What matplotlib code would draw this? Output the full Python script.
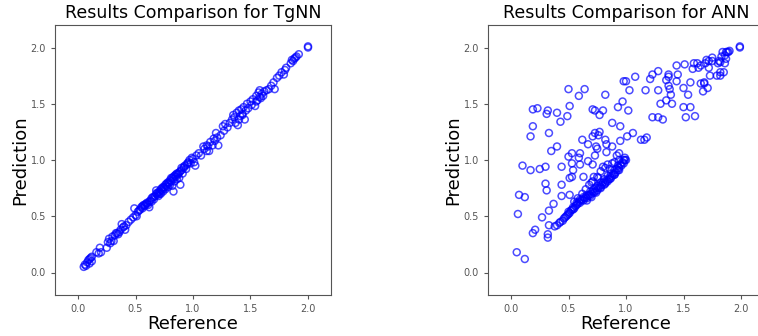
import numpy as np
import matplotlib.pyplot as plt

# TgNN results (reference, prediction)
tg_ref = [0.05, 0.06, 0.07, 0.08, 0.09, 0.10, 0.10, 0.11, 0.12, 0.12, 0.16, 0.18, 0.19, 0.20,
          0.25, 0.26, 0.27, 0.28, 0.29, 0.30, 0.31, 0.32, 0.34, 0.35, 0.36, 0.38, 0.39, 0.40,
          0.41, 0.42, 0.44, 0.46, 0.48, 0.49, 0.50, 0.51, 0.53, 0.54, 0.55, 0.56, 0.57, 0.58,
          0.59, 0.60, 0.61, 0.62, 0.63, 0.64, 0.65, 0.66, 0.67, 0.68, 0.68, 0.69, 0.70, 0.70,
          0.71, 0.72, 0.72, 0.73, 0.74, 0.74, 0.75, 0.76, 0.76, 0.77, 0.78, 0.78, 0.79, 0.80,
          0.80, 0.81, 0.82, 0.82, 0.83, 0.83, 0.84, 0.84, 0.85, 0.86, 0.86, 0.87, 0.88, 0.88,
          0.89, 0.89, 0.90, 0.91, 0.92, 0.93, 0.94, 0.95, 0.96, 0.97, 0.98, 0.99, 1.00, 1.01,
          1.02, 1.03, 1.05, 1.07, 1.09, 1.10, 1.12, 1.12, 1.14, 1.15, 1.17, 1.18, 1.20, 1.21,
          1.22, 1.24, 1.26, 1.27, 1.28, 1.30, 1.32, 1.34, 1.35, 1.36, 1.37, 1.38, 1.39, 1.40,
          1.41, 1.42, 1.43, 1.44, 1.45, 1.46, 1.47, 1.48, 1.50, 1.51, 1.52, 1.54, 1.55, 1.56,
          1.57, 1.58, 1.59, 1.60, 1.61, 1.62, 1.64, 1.66, 1.68, 1.70, 1.71, 1.73, 1.75, 1.77,
          1.79, 1.80, 1.81, 1.85, 1.86, 1.87, 1.88, 1.89, 1.90, 1.92, 2.00, 2.00,
          0.58, 0.60, 0.62, 0.64, 0.66, 0.69, 0.71, 0.73, 0.75, 0.77, 0.79, 0.81, 0.83, 0.85,
          0.87, 0.90, 0.92, 0.95, 0.33, 0.37, 0.52, 0.56, 1.40, 1.43, 1.55, 1.58, 1.13, 1.19]
tg_pred = [0.05, 0.07, 0.06, 0.09, 0.11, 0.08, 0.12, 0.13, 0.10, 0.14, 0.18, 0.17, 0.22, 0.18,
           0.22, 0.27, 0.30, 0.26, 0.28, 0.32, 0.28, 0.33, 0.35, 0.34, 0.36, 0.43, 0.40, 0.41,
           0.38, 0.42, 0.45, 0.47, 0.49, 0.57, 0.51, 0.50, 0.55, 0.56, 0.58, 0.57, 0.60, 0.59,
           0.61, 0.62, 0.60, 0.58, 0.64, 0.63, 0.67, 0.65, 0.68, 0.70, 0.73, 0.69, 0.71, 0.68,
           0.72, 0.74, 0.70, 0.73, 0.76, 0.72, 0.75, 0.78, 0.74, 0.77, 0.80, 0.76, 0.79, 0.82,
           0.78, 0.81, 0.84, 0.77, 0.72, 0.83, 0.86, 0.81, 0.85, 0.88, 0.83, 0.87, 0.89, 0.84,
           0.78, 0.90, 0.91, 0.88, 0.93, 0.95, 0.92, 0.96, 0.98, 1.00, 0.97, 1.02, 1.01, 0.98,
           0.95, 1.04, 1.06, 1.04, 1.12, 1.10, 1.13, 1.08, 1.08, 1.16, 1.13, 1.19, 1.24, 1.20,
           1.13, 1.22, 1.30, 1.26, 1.32, 1.29, 1.33, 1.36, 1.40, 1.38, 1.33, 1.42, 1.31, 1.44,
           1.39, 1.45, 1.41, 1.47, 1.36, 1.44, 1.50, 1.46, 1.52, 1.49, 1.54, 1.48, 1.57, 1.53,
           1.60, 1.62, 1.55, 1.59, 1.57, 1.61, 1.62, 1.63, 1.66, 1.69, 1.63, 1.73, 1.75, 1.78,
           1.76, 1.80, 1.82, 1.86, 1.89, 1.88, 1.90, 1.91, 1.92, 1.94, 2.00, 2.01,
           0.60, 0.61, 0.63, 0.66, 0.67, 0.71, 0.70, 0.75, 0.76, 0.79, 0.80, 0.84, 0.85, 0.87,
           0.88, 0.93, 0.94, 0.97, 0.35, 0.38, 0.54, 0.59, 1.36, 1.40, 1.52, 1.56, 1.12, 1.17]

# ANN results: scattered points
ann_ref = [0.05, 0.12, 0.06, 0.07, 0.12, 0.10, 0.17, 0.25, 0.30, 0.17, 0.19, 0.19, 0.23, 0.32,
           0.31, 0.40, 0.49, 0.43, 0.33, 0.50, 0.51, 0.59, 0.64, 0.40, 0.35, 0.30, 0.31, 0.27,
           0.33, 0.37, 0.33, 0.32, 0.32, 0.21, 0.19, 0.44, 0.44, 0.44, 0.51, 0.50, 0.53, 0.53,
           0.54, 0.53, 0.51, 0.59, 0.60, 0.60, 0.62, 0.67, 0.63, 0.67, 0.71, 0.71, 0.73, 0.77,
           0.76, 0.74, 0.75, 0.73, 0.71, 0.73, 0.77, 0.80, 0.82, 0.82, 0.83, 0.83, 0.88, 0.88,
           0.95, 0.94, 0.95, 0.93, 0.97, 0.98, 1.00, 1.02, 1.03, 1.01, 1.06, 1.08, 1.13, 1.16,
           1.18, 1.17, 1.21, 1.23, 1.28, 1.23, 1.28, 1.32, 1.28, 1.30, 1.35, 1.35, 1.37, 1.37,
           1.37, 1.38, 1.39, 1.40, 1.44, 1.45, 1.44, 1.50, 1.50, 1.52, 1.54, 1.51, 1.56, 1.56,
           1.58, 1.59, 1.60, 1.62, 1.63, 1.65, 1.65, 1.67, 1.68, 1.68, 1.69, 1.70, 1.71, 1.72,
           1.72, 1.73, 1.75, 1.75, 1.79, 1.80, 1.81, 1.82, 1.82, 1.83, 1.84, 1.86, 1.86, 1.87,
           1.88, 1.90, 1.89, 1.87, 1.82, 1.85, 1.99, 1.99,
           0.71, 0.75, 0.80, 0.84, 0.92, 0.98, 0.99, 0.72, 0.78, 0.82, 0.86, 0.88, 0.76, 0.70,
           0.68, 0.65, 0.62, 0.58, 0.55, 0.90, 0.94]
ann_pred = [0.18, 0.12, 0.52, 0.69, 0.67, 0.95, 0.91, 0.92, 0.94, 1.21, 1.30, 1.45, 1.46, 1.44,
            1.41, 1.42, 1.39, 1.34, 1.24, 1.63, 1.48, 1.57, 1.63, 1.12, 1.08, 0.79, 0.73, 0.49,
            0.55, 0.61, 0.42, 0.34, 0.31, 0.38, 0.35, 0.94, 0.78, 0.68, 0.69, 1.03, 1.06, 0.97,
            0.91, 0.85, 0.84, 1.02, 1.06, 0.96, 1.18, 1.14, 0.85, 0.99, 0.96, 1.21, 1.24, 1.25,
            1.22, 1.12, 1.10, 1.04, 1.45, 1.44, 1.40, 1.44, 1.58, 1.18, 1.14, 1.07, 1.12, 1.33,
            1.30, 1.06, 1.17, 1.47, 1.52, 1.70, 1.70, 1.44, 1.62, 1.21, 1.24, 1.74, 1.18, 1.18,
            1.20, 1.62, 1.72, 1.76, 1.79, 1.38, 1.38, 1.36, 1.62, 1.50, 1.53, 1.71, 1.76, 1.74,
            1.66, 1.63, 1.58, 1.50, 1.70, 1.76, 1.84, 1.64, 1.47, 1.38, 1.58, 1.85, 1.47, 1.69,
            1.81, 1.86, 1.39, 1.86, 1.82, 1.84, 1.68, 1.61, 1.69, 1.68, 1.86, 1.89, 1.64, 1.82,
            1.88, 1.75, 1.88, 1.91, 1.75, 1.86, 1.88, 1.78, 1.87, 1.92, 1.96, 1.93, 1.86, 1.90,
            1.96, 1.97, 1.96, 1.96, 1.75, 1.78, 2.01, 2.00,
            0.81, 0.85, 0.94, 0.96, 1.04, 1.00, 1.02, 0.85, 0.90, 0.93, 0.92, 0.97, 0.84, 0.80,
            0.78, 0.74, 0.70, 0.66, 0.63, 0.98, 1.00]
# ANN results: dense band close to the diagonal
band_ref = [0.38, 0.40, 0.42, 0.43, 0.45, 0.46, 0.47, 0.48, 0.49, 0.50, 0.50, 0.51, 0.52, 0.53,
            0.54, 0.54, 0.55, 0.56, 0.57, 0.57, 0.58, 0.59, 0.60, 0.60, 0.61, 0.62, 0.63, 0.63,
            0.64, 0.65, 0.66, 0.66, 0.67, 0.68, 0.69, 0.69, 0.70, 0.71, 0.72, 0.72, 0.73, 0.74,
            0.75, 0.75, 0.76, 0.77, 0.78, 0.78, 0.79, 0.80, 0.81, 0.81, 0.82, 0.83, 0.84, 0.84,
            0.85, 0.86, 0.87, 0.87, 0.88, 0.89, 0.90, 0.90, 0.91, 0.92, 0.93, 0.93, 0.94, 0.95,
            0.96, 0.97, 0.98, 0.99, 1.00, 0.66, 0.70, 0.74, 0.78, 0.82, 0.86, 0.90, 0.94]
band_pred = [0.41, 0.42, 0.44, 0.45, 0.46, 0.48, 0.49, 0.50, 0.51, 0.52, 0.54, 0.53, 0.55, 0.56,
             0.56, 0.58, 0.57, 0.59, 0.60, 0.62, 0.61, 0.63, 0.62, 0.65, 0.64, 0.65, 0.64, 0.67,
             0.66, 0.67, 0.66, 0.69, 0.68, 0.69, 0.68, 0.72, 0.70, 0.72, 0.71, 0.74, 0.72, 0.75,
             0.73, 0.77, 0.75, 0.77, 0.76, 0.80, 0.78, 0.80, 0.78, 0.83, 0.80, 0.82, 0.81, 0.86,
             0.83, 0.85, 0.84, 0.88, 0.86, 0.88, 0.87, 0.91, 0.89, 0.92, 0.91, 0.95, 0.93, 0.96,
             0.95, 0.98, 0.97, 1.00, 1.00, 0.64, 0.67, 0.71, 0.75, 0.79, 0.83, 0.87, 0.91]

fig = plt.figure(figsize=(7.58, 3.36), dpi=100)
ax1 = fig.add_axes([55/758, 41/336, 276/758, 270/336])
ax2 = fig.add_axes([488/758, 41/336, 276/758, 270/336])

def style(ax, title):
    ax.set_xlim(-0.2, 2.2)
    ax.set_ylim(-0.2, 2.2)
    ax.set_xticks([0.0, 0.5, 1.0, 1.5, 2.0])
    ax.set_yticks([0.0, 0.5, 1.0, 1.5, 2.0])
    ax.tick_params(labelsize=7, colors='#555555', length=3)
    for s in ax.spines.values():
        s.set_color('#555555')
    ax.set_title(title, fontsize=12.5, pad=5)
    ax.set_xlabel('Reference', fontsize=13, labelpad=1)
    ax.set_ylabel('Prediction', fontsize=13, labelpad=1)

ax1.scatter(tg_ref, tg_pred, s=25, facecolors='none', edgecolors='b', linewidths=1.1, alpha=0.7)
style(ax1, 'Results Comparison for TgNN')

ax2.scatter(ann_ref + band_ref, ann_pred + band_pred, s=25, facecolors='none', edgecolors='b',
            linewidths=1.1, alpha=0.7)
style(ax2, 'Results Comparison for ANN')

fig.savefig('out.png', dpi=100)
